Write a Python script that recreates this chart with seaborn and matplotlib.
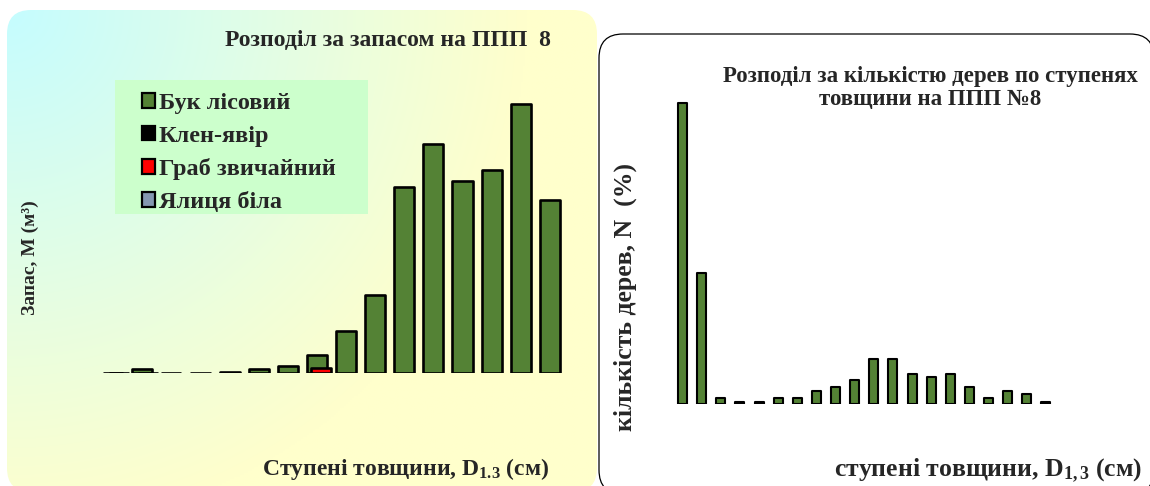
import numpy as np
import pandas as pd
import matplotlib
matplotlib.use("Agg")
import matplotlib.pyplot as plt
from matplotlib.patches import FancyBboxPatch, Rectangle, Patch
import seaborn as sns

# ---- data -------------------------------------------------------------
# diameter classes, cm
stock_classes = [8, 12, 16, 20, 24, 28, 32, 36, 40, 44, 48, 52, 56, 60, 64, 68]
# growing stock by species, m3 (None = species absent in the class)
buk_stock = [0.0, 0.9, 0.0, 0.0, 0.2, 0.9, 1.5, 3.7, 8.5, 15.7, 37.1, 45.7, 38.3, 40.5, 53.7, 34.5]
klen_stock = [0.0, 0.0] + [None] * 14
hrab_stock = [None] * 7 + [1.0] + [None] * 8
yalytsia_stock = [None] * 16

count_classes = [8, 12, 16, 20, 24, 28, 32, 36, 40, 44, 48, 52, 56, 60, 64, 68, 72, 76, 80, 84]
# share of trees by diameter class, %
count_pct = [41.7, 18.1, 0.8, 0.3, 0.3, 0.8, 0.8, 1.8, 2.4, 3.3,
             6.2, 6.2, 4.2, 3.7, 4.2, 2.4, 0.8, 1.8, 1.4, 0.3]

species = ["Бук лісовий", "Клен-явір", "Граб звичайний", "Ялиця біла"]
species_colors = ["#548235", "#000000", "#ff0000", "#8497b0"]

# ---- style --------------------------------------------------------------
sns.set_theme(style="white")
plt.rcParams["font.family"] = ["Liberation Serif", "DejaVu Serif"]
plt.rcParams["font.weight"] = "bold"
plt.rcParams["mathtext.fontset"] = "custom"
plt.rcParams["mathtext.rm"] = "Liberation Serif:bold"
plt.rcParams["mathtext.it"] = "Liberation Serif:bold:italic"
plt.rcParams["mathtext.bf"] = "Liberation Serif:bold"

W, H = 1150, 486
fig = plt.figure(figsize=(W / 100, H / 100), dpi=100)
fig.patch.set_facecolor("white")


def px_axes(left, top, right, bottom, **kw):
    return fig.add_axes([left / W, 1 - bottom / H, (right - left) / W, (bottom - top) / H], **kw)


# background layer in pixel coordinates
bg = px_axes(0, 0, W, H, zorder=0)
bg.set_xlim(0, W)
bg.set_ylim(H, 0)
bg.axis("off")

# left panel: rounded card with a cyan-to-cream radial wash
left_card = FancyBboxPatch((7, 10), 590, 482, boxstyle="round,pad=0,rounding_size=24",
                           facecolor="none", edgecolor="none", transform=bg.transData)
bg.add_patch(left_card)
gx, gy = np.meshgrid(np.linspace(7, 597, 300), np.linspace(10, 492, 240))
t = np.clip(np.hypot(gx - 7, gy - 10) / 520, 0, 1)[..., None]
c0 = np.array([197, 252, 255]) / 255
c1 = np.array([255, 255, 204]) / 255
grad = c0 * (1 - t) + c1 * t
im = bg.imshow(grad, extent=(7, 597, 492, 10), aspect="auto", interpolation="bilinear", zorder=0)
im.set_clip_path(left_card)

# legend box on the left panel
bg.add_patch(Rectangle((115, 80), 253, 134, facecolor="#ccffcc", edgecolor="none", zorder=1))

# right panel: white rounded card with a thin outline
bg.add_patch(FancyBboxPatch((599, 34), 555, 460, boxstyle="round,pad=0,rounding_size=24",
                            facecolor="white", edgecolor="black", linewidth=0.9, zorder=1))


def draw_series(ax, values, offset, color, width, lw):
    df = pd.DataFrame({"pos": np.arange(len(values)) + offset, "value": values}).dropna()
    if df.empty:
        return
    sns.barplot(data=df, x="pos", y="value", native_scale=True, orient="x",
                width=width, color=color, saturation=1, errorbar=None,
                edgecolor="black", linewidth=lw, joinstyle="round", ax=ax)


# ---- left chart: growing stock --------------------------------------------
axL = px_axes(84, 73, 579, 373, zorder=2)
axL.patch.set_alpha(0)
series_stock = [buk_stock, klen_stock, hrab_stock, yalytsia_stock]
offsets = [0.0, 0.2, 0.14, 0.1]
for vals, off, col in zip(series_stock, offsets, species_colors):
    draw_series(axL, vals, off, col, 0.69, 1.9)
axL.set_xlim(-1, 16)
axL.set_ylim(0, 60)
axL.axis("off")

handles = [Patch(facecolor=c, edgecolor="black", linewidth=1.6) for c in species_colors]
fig.legend(handles, species, loc="upper left", bbox_to_anchor=(142 / W, 1 - 93 / H),
           frameon=False, handlelength=0.55, handleheight=0.55,
           handletextpad=0.15, labelspacing=0.48, borderaxespad=0, borderpad=0,
           prop={"weight": "bold", "size": 17.5})

fig.text(388 / W, 1 - 40 / H, "Розподіл за запасом на ППП  8", ha="center", va="center",
         fontsize=17, fontweight="bold")
fig.text(30 / W, 1 - 258 / H, "Запас, М (м³)", ha="center", va="center", rotation=90,
         fontsize=14, fontweight="bold")
fig.text(406 / W, 1 - 469 / H, r"Ступені товщини, D$_{1.3}$ (см)", ha="center", va="center",
         fontsize=17, fontweight="bold")

# ---- right chart: tree count share -------------------------------------
axR = px_axes(663.4, 79, 1065.1, 404, zorder=2)
axR.patch.set_alpha(0)
draw_series(axR, count_pct, 0.0, species_colors[0], 0.47, 1.5)
axR.set_xlim(-1, 20)
axR.set_ylim(0, 45)
axR.axis("off")

fig.text(930 / W, 1 - 88 / H, "Розподіл за кількістю дерев по ступенях\nтовщини на ППП №8",
         ha="center", va="center", fontsize=16.5, fontweight="bold", linespacing=1.15)
fig.text(625 / W, 1 - 297 / H, "кількість дерев, N  (%)", ha="center", va="center",
         rotation=90, fontsize=18.5, fontweight="bold")
fig.text(988 / W, 1 - 471 / H, r"ступені товщини, D$_{1,3}$ (см)", ha="center", va="center",
         fontsize=18.5, fontweight="bold")

fig.savefig("out.png", dpi=100, facecolor="white")
